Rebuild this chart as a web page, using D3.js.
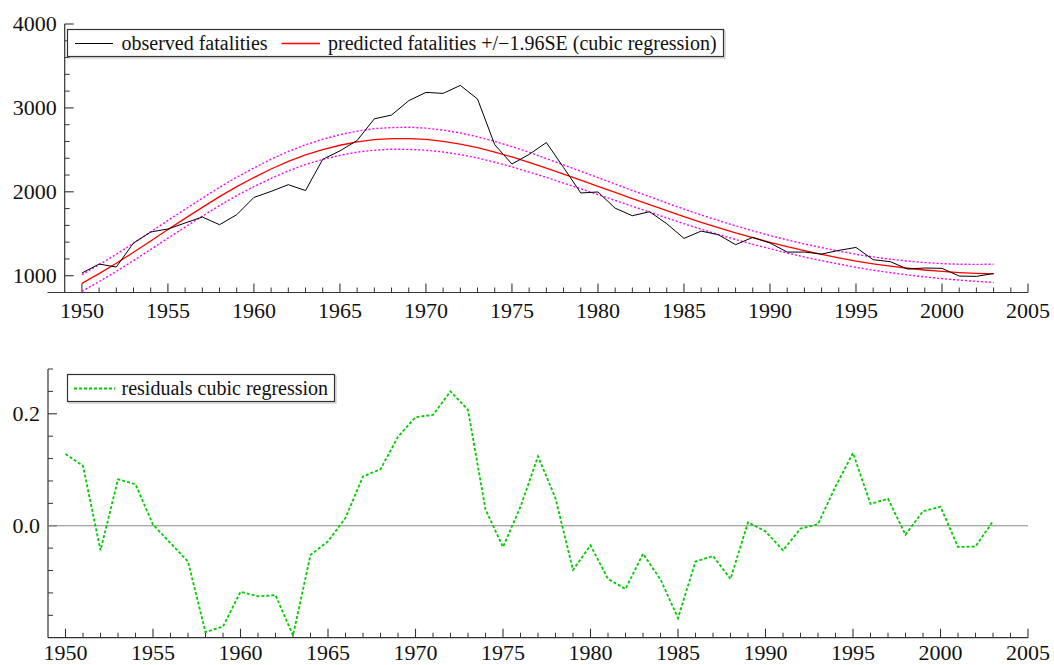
<!DOCTYPE html>
<html>
<head>
<meta charset="utf-8">
<script src="https://cdn.jsdelivr.net/npm/d3@7"></script>
<style>
  html, body { margin: 0; padding: 0; background: #fff; }
  svg { display: block; }
  text { font-family: "Liberation Serif", "DejaVu Serif", serif; fill: #111; }
</style>
</head>
<body>
<svg id="chart" width="1054" height="665"></svg>
<script>
// ---------- data ----------
const years = [1950,1951,1952,1953,1954,1955,1956,1957,1958,1959,
               1960,1961,1962,1963,1964,1965,1966,1967,1968,1969,
               1970,1971,1972,1973,1974,1975,1976,1977,1978,1979,
               1980,1981,1982,1983,1984,1985,1986,1987,1988,1989,
               1990,1991,1992,1993,1994,1995,1996,1997,1998,1999,
               2000,2001,2002,2003];

const observed = [1032,1139,1104,1390,1521,1557,1628,1700,1608,1727,
                  1933,2005,2085,2015,2387,2488,2612,2870,2915,3086,
                  3185,3173,3268,3106,2561,2331,2446,2587,2290,1986,
                  1998,1805,1715,1763,1620,1445,1532,1489,1370,1457,
                  1390,1282,1282,1258,1302,1337,1191,1167,1080,1092,
                  1088,996,992,1027];

const predicted = [908,1025,1149,1279,1414,1550,1683,1814,1942,2062,
                   2170,2272,2362,2440,2503,2555,2595,2621,2634,2635,
                   2624,2602,2569,2526,2474,2415,2350,2281,2210,2138,
                   2066,1993,1920,1848,1776,1705,1637,1572,1511,1453,
                   1398,1347,1299,1255,1214,1175,1142,1114,1089,1068,
                   1051,1038,1029,1023];

const upper = [1012,1131,1256,1387,1523,1659,1792,1924,2054,2174,
               2284,2389,2481,2560,2626,2681,2723,2753,2766,2770,
               2759,2735,2701,2656,2601,2539,2471,2396,2321,2245,
               2170,2093,2016,1943,1867,1794,1724,1658,1595,1535,
               1479,1427,1379,1335,1294,1255,1224,1197,1175,1157,
               1144,1137,1135,1137];

const lower = [815,929,1051,1180,1313,1448,1580,1710,1836,1956,
               2062,2161,2249,2326,2386,2435,2473,2496,2508,2506,
               2496,2475,2444,2403,2353,2297,2235,2172,2104,2036,
               1967,1898,1828,1758,1689,1620,1554,1491,1432,1375,
               1322,1271,1223,1180,1139,1100,1066,1037,1009,986,
               965,948,933,920];

const residuals = [0.128,0.107,-0.044,0.083,0.074,0.002,-0.031,-0.064,-0.190,-0.180,
                   -0.118,-0.126,-0.124,-0.196,-0.052,-0.028,0.014,0.088,0.101,0.159,
                   0.194,0.198,0.240,0.207,0.029,-0.038,0.034,0.124,0.049,-0.079,
                   -0.035,-0.095,-0.113,-0.050,-0.096,-0.165,-0.064,-0.054,-0.095,0.006,
                   -0.010,-0.044,-0.005,0.003,0.070,0.130,0.039,0.048,-0.016,0.026,
                   0.034,-0.038,-0.037,0.008];

const xTickLabels = [1950,1955,1960,1965,1970,1975,1980,1985,1990,1995,2000,2005];
const topYTickLabels = [1000,2000,3000,4000];
const topYMinor = [1200,1400,1600,1800,2200,2400,2600,2800,3200,3400,3600,3800];
const botYTickLabels = [0.0, 0.2];
const botYMinor = [-0.16,-0.12,-0.08,-0.04,0.04,0.08,0.12,0.16,0.24,0.28];
const xMinorYears = [1951,1952,1953,1954,1956,1957,1958,1959,1961,1962,1963,1964,
                     1966,1967,1968,1969,1971,1972,1973,1974,1976,1977,1978,1979,
                     1981,1982,1983,1984,1986,1987,1988,1989,1991,1992,1993,1994,
                     1996,1997,1998,1999,2001,2002,2003,2004];

const legendTop = ["observed fatalities", "predicted fatalities +/\u22121.96SE (cubic regression)"];
const legendBottom = ["residuals cubic regression"];

// ---------- setup ----------
const svg = d3.select("#chart");
const axisColor = "#333";
const FS = 22;

// Top panel scales
const xT = d3.scaleLinear().domain([1948, 2005]).range([47.5, 1028]);
const yT = d3.scaleLinear().domain([800, 4000]).range([292.5, 24]);
// Bottom panel scales
const xB = d3.scaleLinear().domain([1949, 2005]).range([48, 1028]);
const yB = d3.scaleLinear().domain([-0.2, 0.28]).range([637.7, 369]);

function drawAxes(g, x, y, yAxisX, xMin, yMajor, yMinor, yFmt, labelBaseline) {
  const yBottom = y.range()[0], yTop = y.range()[1];
  g.append("line").attr("x1", x(xMin)).attr("x2", x(2005))
    .attr("y1", yBottom).attr("y2", yBottom)
    .attr("stroke", axisColor).attr("stroke-width", 1.2);
  g.append("line").attr("x1", yAxisX).attr("x2", yAxisX)
    .attr("y1", yTop).attr("y2", yBottom)
    .attr("stroke", axisColor).attr("stroke-width", 1.2);
  g.selectAll(".xmaj").data(xTickLabels).join("line")
    .attr("x1", d => x(d)).attr("x2", d => x(d))
    .attr("y1", yBottom).attr("y2", yBottom - 9)
    .attr("stroke", axisColor).attr("stroke-width", 1.1);
  g.selectAll(".xmin").data(xMinorYears).join("line")
    .attr("x1", d => x(d)).attr("x2", d => x(d))
    .attr("y1", yBottom).attr("y2", yBottom - 5)
    .attr("stroke", axisColor).attr("stroke-width", 1);
  g.selectAll(".xlab").data(xTickLabels).join("text")
    .attr("x", d => x(d)).attr("y", labelBaseline)
    .attr("text-anchor", "middle").attr("font-size", FS)
    .text(d => d);
  g.selectAll(".ymaj").data(yMajor).join("line")
    .attr("x1", yAxisX).attr("x2", yAxisX + 9)
    .attr("y1", d => y(d)).attr("y2", d => y(d))
    .attr("stroke", axisColor).attr("stroke-width", 1.1);
  g.selectAll(".ymin").data(yMinor).join("line")
    .attr("x1", yAxisX).attr("x2", yAxisX + 5)
    .attr("y1", d => y(d)).attr("y2", d => y(d))
    .attr("stroke", axisColor).attr("stroke-width", 1);
  g.selectAll(".ylab").data(yMajor).join("text")
    .attr("x", yAxisX - 8).attr("y", d => y(d))
    .attr("dy", "0.34em")
    .attr("text-anchor", "end").attr("font-size", FS)
    .text(yFmt);
}

function drawLegend(g, x0, y0, w, h, items) {
  g.append("rect").attr("x", x0 + 1.5).attr("y", y0 + 1.5).attr("width", w).attr("height", h)
    .attr("fill", "none").attr("stroke", "#bbb").attr("stroke-width", 1);
  g.append("rect").attr("x", x0).attr("y", y0).attr("width", w).attr("height", h)
    .attr("fill", "#fff").attr("stroke", "#333").attr("stroke-width", 1.2);
  items.forEach(it => {
    g.append("line").attr("x1", it.lx1).attr("x2", it.lx2)
      .attr("y1", y0 + h / 2 + 0.5).attr("y2", y0 + h / 2 + 0.5)
      .attr("stroke", it.color).attr("stroke-width", it.width)
      .attr("stroke-dasharray", it.dash || null);
    g.append("text").attr("x", it.tx).attr("y", y0 + h / 2 + 6.5)
      .attr("font-size", 20).text(it.label);
  });
}

// ---------- top panel ----------
const gT = svg.append("g");
drawAxes(gT, xT, yT, xT(1949), 1948, topYTickLabels, topYMinor, d => d, 318);

const lineT = (arr) => d3.line().x((d, i) => xT(years[i])).y(d => yT(d))(arr);
gT.append("path").attr("d", lineT(upper)).attr("fill", "none")
  .attr("stroke", "#ff00ff").attr("stroke-width", 1.4).attr("stroke-dasharray", "2,2");
gT.append("path").attr("d", lineT(lower)).attr("fill", "none")
  .attr("stroke", "#ff00ff").attr("stroke-width", 1.4).attr("stroke-dasharray", "2,2");
gT.append("path").attr("d", lineT(predicted)).attr("fill", "none")
  .attr("stroke", "#ff0000").attr("stroke-width", 1.3);
gT.append("path").attr("d", lineT(observed)).attr("fill", "none")
  .attr("stroke", "#000").attr("stroke-width", 1);

drawLegend(gT, 67.5, 29.5, 656, 27, [
  {label: legendTop[0], color: "#000", width: 1, lx1: 75, lx2: 113, tx: 121.5},
  {label: legendTop[1], color: "#ff0000", width: 1.3, lx1: 281.5, lx2: 320, tx: 328}
]);

// ---------- bottom panel ----------
const gB = svg.append("g");
drawAxes(gB, xB, yB, xB(1949), 1949, botYTickLabels, botYMinor, d => d3.format(".1f")(d), 660);

gB.append("line").attr("x1", xB(1949)).attr("x2", xB(2005))
  .attr("y1", yB(0)).attr("y2", yB(0))
  .attr("stroke", "#888").attr("stroke-width", 1.2);

const lineB = d3.line().x((d, i) => xB(years[i])).y(d => yB(d));
gB.append("path").attr("d", lineB(residuals)).attr("fill", "none")
  .attr("stroke", "#00cc00").attr("stroke-width", 1.8).attr("stroke-dasharray", "3,2");

drawLegend(gB, 67.5, 374.5, 267, 27, [
  {label: legendBottom[0], color: "#00cc00", width: 1.8, dash: "3,2", lx1: 74, lx2: 115, tx: 121.5}
]);
</script>
</body>
</html>
